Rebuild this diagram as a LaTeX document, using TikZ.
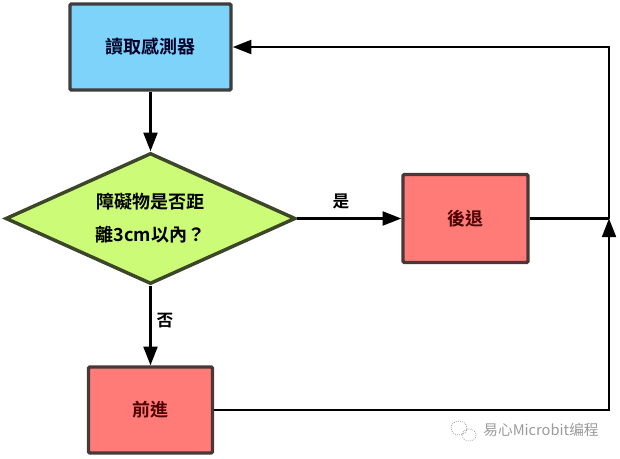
\documentclass[tikz,border=0pt]{standalone}
\usepackage{fontspec}
\usetikzlibrary{shapes.geometric,arrows.meta}
\newfontfamily\tcb{Noto Sans CJK TC Bold}
\newfontfamily\scr{Noto Sans CJK SC}
\definecolor{boxblue}{HTML}{7DD3FA}
\definecolor{boxgreen}{HTML}{CCFB78}
\definecolor{boxpink}{HTML}{FF7B78}
\definecolor{edgegray}{HTML}{3E3E3E}
\definecolor{edgegreen}{HTML}{3C4628}
\definecolor{edgebrown}{HTML}{4A3838}
\definecolor{wmgray}{HTML}{9A9A9A}
\tikzset{
  box/.style={draw=edgegray, line width=2.6pt, rounded corners=1pt, inner sep=0pt,
    font=\tcb\fontsize{13.5}{16}\selectfont},
  bluebox/.style={box, fill=boxblue, text=black!85!blue},
  pinkbox/.style={box, draw=edgebrown, fill=boxpink, text=black!70!red},
  decision/.style={diamond, aspect=2.2, draw=edgegreen, fill=boxgreen, line width=2.6pt, inner sep=0pt,
    align=center, font=\tcb\fontsize{13.5}{24.75}\selectfont},
  arr/.style={line width=1.6pt, -{Triangle[length=14pt,width=10.5pt]}},
  plain/.style={line width=1.6pt},
  lbl/.style={font=\tcb\fontsize{12.5}{14}\selectfont, inner sep=0pt}
}
\begin{document}
\begin{tikzpicture}[x=0.75pt,y=-0.75pt]
\useasboundingbox (0,0) rectangle (620,458);
\node[bluebox, minimum width=120.75pt, minimum height=64.5pt] (read) at (150.5,47) {讀取感測器};
\node[decision, minimum width=217.5pt, minimum height=98.25pt] (decide) at (150.5,218.5) {障礙物是否距\\離3cm以內？};
\node[pinkbox, minimum width=93.75pt, minimum height=66pt] (back) at (465.5,218.5) {後退};
\node[pinkbox, minimum width=93pt, minimum height=64.5pt] (fwd) at (150.5,410) {前進};
\coordinate (tr) at (609,47);
\coordinate (br) at (609,410);
\coordinate (join) at (609,218.5);
\draw[arr] (read.south) -- (decide.north);
\draw[arr] (decide.east) -- (back.west);
\node[lbl] (yes) at (341,201) {是};
\draw[arr] (decide.south) -- (fwd.north);
\node[lbl] (no) at (165,321) {否};
\draw[plain] (back.east) -- (join);
\draw[arr] (fwd.east) -- (br) -- (join);
\draw[arr] (join) -- (tr) -- (read.east);
\node[font=\scr\fontsize{11}{13}\selectfont, text=wmgray, inner sep=0pt] (wm) at (541,430) {易心Microbit编程};
\draw[wmgray, densely dotted, line width=0.6pt] (459,428) ellipse (8 and 7);
\draw[wmgray, densely dotted, line width=0.6pt] (469,435) ellipse (7 and 6);
\end{tikzpicture}
\end{document}
